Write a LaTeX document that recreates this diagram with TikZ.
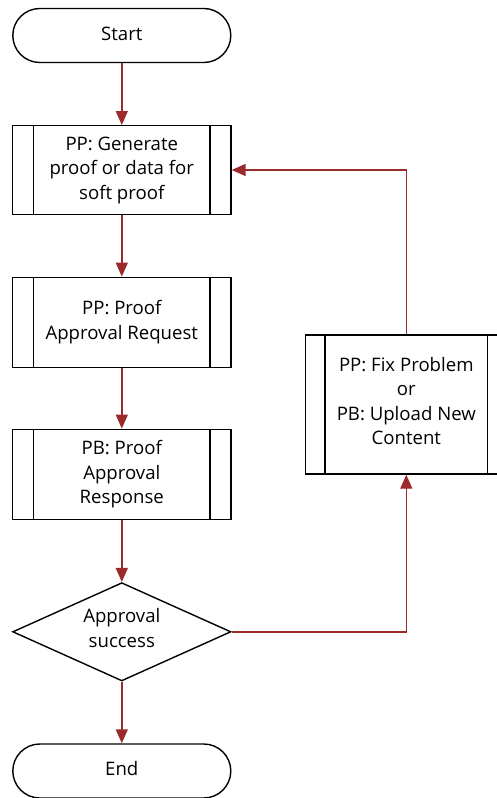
\documentclass[tikz,border=0pt]{standalone}
\usepackage{fontspec}
\setmainfont{Open Sans}
\usetikzlibrary{shapes.geometric,shapes.misc,arrows.meta}
\definecolor{arrred}{HTML}{9B2A2A}
\begin{document}
\begin{tikzpicture}[x=1pt,y=-1pt,
  every node/.style={font=\fontsize{18.6}{24.5}\selectfont, align=center, inner sep=0pt},
  term/.style={draw=black, line width=1.4pt, rounded rectangle, minimum width=218pt, minimum height=54pt},
  proc/.style={draw=black, line width=1.4pt, rectangle, minimum width=218.3pt, minimum height=90pt},
  decis/.style={draw=black, line width=1.4pt, diamond, minimum width=218.3pt, minimum height=98.3pt},
  flow/.style={draw=arrred, line width=1.4pt, -{Triangle[length=14pt,width=12pt]}}
]
\useasboundingbox (0,0) rectangle (496,798);
\node[term] (start) at (121.8,35.5) {};
\node (starttxt) at (121.8,33.5) {Start};
\node[proc, minimum height=88.6pt] (p1) at (121.8,170) {PP: Generate\\proof or data for\\soft proof};
\node[proc] (p2) at (121.8,322.3) {PP: Proof\\Approval Request};
\node[proc] (p3) at (121.8,474.3) {PB: Proof\\Approval\\Response};
\node[decis] (dec) at (121.8,631.8) {};
\node (dectxt) at (121.8,628) {Approval\\success};
\node[term] (end) at (121.8,771) {};
\node (endtxt) at (121.8,769) {End};
\node[proc, minimum width=201.3pt, minimum height=139pt] (fix) at (406.3,404.5) {};
\node (fixtxt) at (406.3,401) {PP: Fix Problem\\or\\PB: Upload New\\Content};
% inner lines of predefined process boxes
\foreach \n in {p1,p2,p3}{
  \draw[line width=1.4pt] ([xshift=21.6pt]\n.north west) -- ([xshift=21.6pt]\n.south west);
  \draw[line width=1.4pt] ([xshift=-21.6pt]\n.north east) -- ([xshift=-21.6pt]\n.south east);
}
\draw[line width=1.4pt] ([xshift=20pt]fix.north west) -- ([xshift=20pt]fix.south west);
\draw[line width=1.4pt] ([xshift=-20pt]fix.north east) -- ([xshift=-20pt]fix.south east);
% connectors
\draw[flow] (start) -- (p1);
\draw[flow] (p1) -- (p2);
\draw[flow] (p2) -- (p3);
\draw[flow] (p3) -- (dec);
\draw[flow] (dec) -- (end);
\draw[flow] (dec.east) -| (fix.south);
\draw[flow] (fix.north) |- (p1.east);
\end{tikzpicture}
\end{document}
